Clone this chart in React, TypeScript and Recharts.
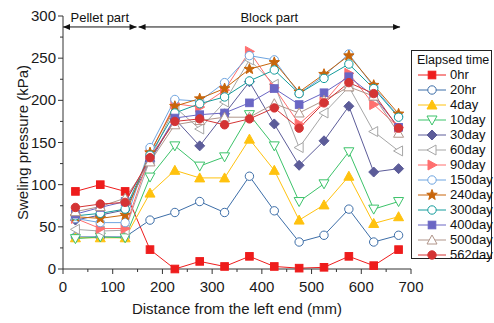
import React from 'react';
import { LineChart, Line, XAxis, YAxis, ReferenceLine } from 'recharts';

// distance from the left end (mm)
const distances = [25, 75, 125, 175, 225, 275, 325, 375, 425, 475, 525, 575, 625, 675];

// swelling pressure (kPa) per elapsed time
const hr0 = [92, 100, 92, 23, 0, 9, 3, 15, 3, 1, 2, 15, 4, 23];
const hr20 = [38, 38, 38, 58, 67, 80, 67, 110, 69, 32, 40, 71, 32, 40];
const day4 = [37, 37, 37, 90, 117, 108, 108, 154, 117, 58, 76, 110, 54, 62];
const day10 = [36, 38, 37, 109, 146, 122, 133, 183, 146, 80, 101, 139, 71, 80];
const day30 = [58, 64, 70, 128, 178, 146, 184, 222, 172, 123, 152, 193, 115, 119];
const day60 = [47, 45, 46, 130, 192, 166, 198, 248, 219, 144, 185, 216, 163, 140];
const day90 = [60, 48, 48, 136, 196, 192, 212, 258, 215, 172, 198, 232, 195, 168];
const day150 = [60, 55, 55, 144, 201, 199, 221, 253, 248, 208, 229, 255, 216, 181];
const day240 = [62, 60, 64, 138, 193, 202, 214, 237, 245, 210, 231, 253, 218, 184];
const day300 = [63, 66, 71, 135, 185, 196, 204, 223, 236, 208, 226, 243, 214, 180];
const day400 = [65, 73, 80, 130, 179, 183, 185, 197, 214, 195, 209, 228, 205, 168];
const day500 = [68, 74, 84, 127, 171, 176, 180, 180, 196, 185, 200, 216, 205, 161];
const day562 = [73, 77, 79, 132, 175, 178, 171, 178, 191, 167, 197, 221, 208, 167];

const xTicks = [0, 50, 100, 150, 200, 250, 300, 350, 400, 450, 500, 550, 600, 650, 700];
const yTicks = [0, 25, 50, 75, 100, 125, 150, 175, 200, 225, 250, 275, 300];

type Shape = 'square' | 'circle' | 'triUp' | 'triDown' | 'diamond' | 'triLeft' | 'triRight' | 'star';

const series: { name: string; values: number[]; color: string; shape: Shape; filled: boolean }[] = [
  { name: '0hr', values: hr0, color: '#ee1c1c', shape: 'square', filled: true },
  { name: '20hr', values: hr20, color: '#3d6ea8', shape: 'circle', filled: false },
  { name: '4day', values: day4, color: '#ffc20e', shape: 'triUp', filled: true },
  { name: '10day', values: day10, color: '#3cc36a', shape: 'triDown', filled: false },
  { name: '30day', values: day30, color: '#5c5c99', shape: 'diamond', filled: true },
  { name: '60day', values: day60, color: '#a6a6a6', shape: 'triLeft', filled: false },
  { name: '90day', values: day90, color: '#ff6f6f', shape: 'triRight', filled: true },
  { name: '150day', values: day150, color: '#6fa5e0', shape: 'circle', filled: false },
  { name: '240day', values: day240, color: '#c8650a', shape: 'star', filled: true },
  { name: '300day', values: day300, color: '#149c9c', shape: 'circle', filled: false },
  { name: '400day', values: day400, color: '#6a66c4', shape: 'square', filled: true },
  { name: '500day', values: day500, color: '#b0958a', shape: 'triUp', filled: false },
  { name: '562day', values: day562, color: '#d43434', shape: 'circle', filled: true },
];

const data = distances.map((x, i) => {
  const row: Record<string, number> = { x };
  series.forEach((s) => (row[s.name] = s.values[i]));
  return row;
});

const FONT = '"Liberation Sans", Arial, sans-serif';

const Marker = ({ cx, cy, shape, color, filled }: { cx: number; cy: number; shape: Shape; color: string; filled: boolean }) => {
  const fill = filled ? color : '#fff';
  const r = 4.2;
  const common = { fill, stroke: color, strokeWidth: 1 };
  switch (shape) {
    case 'square':
      return <rect x={cx - 3.8} y={cy - 3.8} width={7.6} height={7.6} {...common} />;
    case 'circle':
      return <circle cx={cx} cy={cy} r={r} {...common} />;
    case 'triUp':
      return <polygon points={`${cx},${cy - 5} ${cx + 5},${cy + 4} ${cx - 5},${cy + 4}`} {...common} />;
    case 'triDown':
      return <polygon points={`${cx},${cy + 5} ${cx + 5},${cy - 4} ${cx - 5},${cy - 4}`} {...common} />;
    case 'triLeft':
      return <polygon points={`${cx - 5},${cy} ${cx + 4},${cy - 5} ${cx + 4},${cy + 5}`} {...common} />;
    case 'triRight':
      return <polygon points={`${cx + 5},${cy} ${cx - 4},${cy - 5} ${cx - 4},${cy + 5}`} {...common} />;
    case 'diamond':
      return <polygon points={`${cx},${cy - 5} ${cx + 5},${cy} ${cx},${cy + 5} ${cx - 5},${cy}`} {...common} />;
    case 'star': {
      const pts: string[] = [];
      for (let k = 0; k < 10; k++) {
        const rad = k % 2 === 0 ? 5.5 : 2.3;
        const a = -Math.PI / 2 + (k * Math.PI) / 5;
        pts.push(`${cx + rad * Math.cos(a)},${cy + rad * Math.sin(a)}`);
      }
      return <polygon points={pts.join(' ')} {...common} />;
    }
  }
  return null;
};

const XTick = (props: any) => {
  const { x, y, payload } = props;
  const major = payload.value % 100 === 0;
  return (
    <g>
      <line x1={x} y1={y} x2={x} y2={y + (major ? 5 : 3)} stroke="#333" />
      {major && (
        <text x={x} y={y + 23} textAnchor="middle" fontSize={15} fill="#1a1a1a" fontFamily={FONT}>
          {payload.value}
        </text>
      )}
    </g>
  );
};

const YTick = (props: any) => {
  const { x, y, payload } = props;
  const major = payload.value % 50 === 0;
  return (
    <g>
      <line x1={x} y1={y} x2={x - (major ? 5 : 3)} y2={y} stroke="#333" />
      {major && (
        <text x={x - 7} y={y + 5} textAnchor="end" fontSize={15} fill="#1a1a1a" fontFamily={FONT}>
          {payload.value}
        </text>
      )}
    </g>
  );
};

const arrowShape = (label: string) => (p: any) => {
  const { x1, y1, x2, y2 } = p;
  return (
    <g>
      <line x1={x1} y1={y1} x2={x2} y2={y2} stroke="#111" strokeWidth={1} />
      <polygon points={`${x1},${y1} ${x1 + 7},${y1 - 3} ${x1 + 7},${y1 + 3}`} fill="#111" />
      <polygon points={`${x2},${y2} ${x2 - 7},${y2 - 3} ${x2 - 7},${y2 + 3}`} fill="#111" />
      <text x={(x1 + x2) / 2} y={y1 - 5} textAnchor="middle" fontSize={13} fill="#111" fontFamily={FONT}>
        {label}
      </text>
    </g>
  );
};

const LegendBox = () => (
  <div
    style={{
      position: 'absolute',
      left: 411,
      top: 50,
      width: 81,
      height: 209,
      border: '1px solid #222',
      background: '#fff',
      fontFamily: FONT,
      fontSize: 13,
      color: '#111',
      boxSizing: 'border-box',
    }}
  >
    <div style={{ position: 'absolute', left: 5, top: 2, whiteSpace: 'nowrap', fontSize: 12.5 }}>Elapsed time</div>
    {series.map((s, i) => (
      <div key={s.name} style={{ position: 'absolute', left: 5, top: 16 + i * 15, height: 15, display: 'flex', alignItems: 'center' }}>
        <svg width={30} height={14}>
          <line x1={1} y1={7} x2={29} y2={7} stroke={s.color} strokeWidth={1} />
          <Marker cx={15} cy={7} shape={s.shape} color={s.color} filled={s.filled} />
        </svg>
        <span style={{ marginLeft: 3, whiteSpace: 'nowrap' }}>{s.name}</span>
      </div>
    ))}
  </div>
);

export default function App() {
  return (
    <div style={{ position: 'absolute', left: 0, top: 0, width: 494, height: 323, background: '#fff' }}>
      <LineChart width={494} height={323} data={data} margin={{ top: 16, right: 83, bottom: 0, left: 0 }}>
        <XAxis
          type="number"
          dataKey="x"
          domain={[0, 700]}
          ticks={xTicks}
          interval={0}
          height={54}
          tickSize={0}
          tickMargin={0}
          tickLine={false}
          tick={<XTick />}
          axisLine={{ stroke: '#333' }}
          label={{
            value: 'Distance from the left end (mm)',
            position: 'insideBottom',
            offset: 9,
            style: { fontSize: 15, fill: '#1a1a1a', fontFamily: FONT },
          }}
        />
        <YAxis
          type="number"
          domain={[0, 300]}
          ticks={yTicks}
          interval={0}
          width={63}
          tickSize={0}
          tickMargin={0}
          tickLine={false}
          tick={<YTick />}
          axisLine={{ stroke: '#333' }}
          label={{
            value: 'Sweling pressure (kPa)',
            angle: -90,
            position: 'insideLeft',
            offset: 23,
            style: { textAnchor: 'middle', fontSize: 15, fill: '#1a1a1a', fontFamily: FONT },
          }}
        />
        {series.map((s) => (
          <Line
            key={s.name}
            dataKey={s.name}
            stroke={s.color}
            strokeWidth={1}
            isAnimationActive={false}
            activeDot={false}
            dot={(p: any) => <Marker key={`${s.name}-${p.index}`} cx={p.cx} cy={p.cy} shape={s.shape} color={s.color} filled={s.filled} />}
          />
        ))}
        <ReferenceLine segment={[{ x: 0, y: 287 }, { x: 148, y: 287 }]} shape={arrowShape('Pellet part')} />
        <ReferenceLine segment={[{ x: 152, y: 287 }, { x: 678, y: 287 }]} shape={arrowShape('Block part')} />
      </LineChart>
      <LegendBox />
    </div>
  );
}
